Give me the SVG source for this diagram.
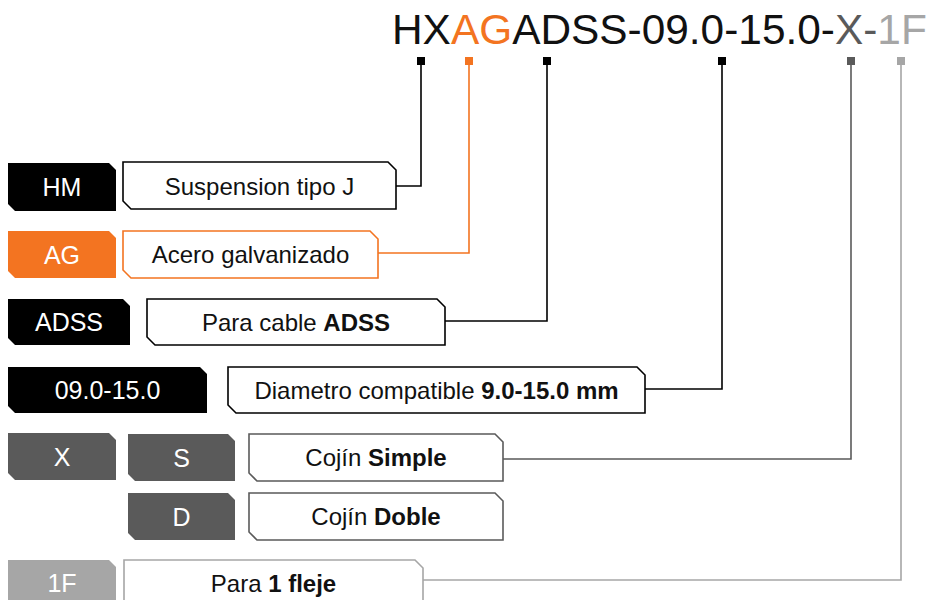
<svg xmlns="http://www.w3.org/2000/svg" width="929" height="600" viewBox="0 0 929 600">
<style>
text{font-family:"Liberation Sans",Arial,Helvetica,sans-serif}
.title{font-size:42.4px}
.tag{font-size:25px;fill:#fff;text-anchor:middle}
.desc{font-size:24px;fill:#111;text-anchor:middle}
.box{fill:#fff;stroke-width:1.6}
.conn{fill:none;stroke-width:1.6}
.b{font-weight:bold}
</style>
<rect width="929" height="600" fill="#fff"/>
<text class="title" x="392" y="44"><tspan fill="#111">HX</tspan><tspan fill="#f37421">AG</tspan><tspan fill="#111">ADSS-09.0-15.0-</tspan><tspan fill="#5a5a5a">X-</tspan><tspan fill="#a6a6a6">1F</tspan></text>
<g id="connectors">
<rect x="417" y="57" width="8" height="8" fill="#000"/>
<path class="conn" stroke="#000" d="M421 65V186H396"/>
<rect x="465" y="57" width="8" height="8" fill="#f37421"/>
<path class="conn" stroke="#f37421" d="M469 65V253H378"/>
<rect x="543" y="57" width="8" height="8" fill="#000"/>
<path class="conn" stroke="#000" d="M547 65V321H445"/>
<rect x="718" y="57" width="8" height="8" fill="#000"/>
<path class="conn" stroke="#000" d="M722 65V389H645"/>
<rect x="847" y="57" width="8" height="8" fill="#5a5a5a"/>
<path class="conn" stroke="#5a5a5a" d="M851 65V459H503"/>
<rect x="897" y="57" width="8" height="8" fill="#a6a6a6"/>
<path class="conn" stroke="#a6a6a6" d="M901 65V580H423"/>
</g>
<g id="tag-HM"><path fill="#000" d="M8 163H109L116 170V211H15L8 204Z"/><text class="tag" x="62" y="196">HM</text></g>
<g id="desc-HM"><path class="box" stroke="#000" d="M123 162H388L396 170V209H131L123 201Z"/><text class="desc" x="259.5" y="194.5">Suspension tipo J</text></g>
<g id="tag-AG"><path fill="#f37421" d="M8 231H109L116 238V278H15L8 271Z"/><text class="tag" x="62" y="263.5">AG</text></g>
<g id="desc-AG"><path class="box" stroke="#f37421" d="M123 231H370L378 239V278H131L123 270Z"/><text class="desc" x="250.5" y="263">Acero galvanizado</text></g>
<g id="tag-ADSS"><path fill="#000" d="M8 299H123L130 306V345H15L8 338Z"/><text class="tag" x="69" y="331">ADSS</text></g>
<g id="desc-ADSS"><path class="box" stroke="#000" d="M147 299H437L445 307V345H155L147 337Z"/><text class="desc" x="296" y="330.5">Para cable <tspan class="b">ADSS</tspan></text></g>
<g id="tag-diam"><path fill="#000" d="M8 367H200L207 374V413H15L8 406Z"/><text class="tag" x="107.5" y="399">09.0-15.0</text></g>
<g id="desc-diam"><path class="box" stroke="#000" d="M228 367H637L645 375V413H236L228 405Z"/><text class="desc" x="436.5" y="398.5">Diametro compatible <tspan class="b">9.0-15.0 mm</tspan></text></g>
<g id="tag-X"><path fill="#5a5a5a" d="M8 433H109L116 440V480H15L8 473Z"/><text class="tag" x="62" y="465.5">X</text></g>
<g id="tag-S"><path fill="#5a5a5a" d="M128 434H228L235 441V481H135L128 474Z"/><text class="tag" x="181.5" y="466.5">S</text></g>
<g id="desc-S"><path class="box" stroke="#5a5a5a" d="M249 434H495L503 442V481H257L249 473Z"/><text class="desc" x="376" y="466">Cojín <tspan class="b">Simple</tspan></text></g>
<g id="tag-D"><path fill="#5a5a5a" d="M128 493H228L235 500V540H135L128 533Z"/><text class="tag" x="181.5" y="525.5">D</text></g>
<g id="desc-D"><path class="box" stroke="#5a5a5a" d="M249 493H495L503 501V540H257L249 532Z"/><text class="desc" x="376" y="525">Cojín <tspan class="b">Doble</tspan></text></g>
<g id="tag-1F"><path fill="#a6a6a6" d="M8 560H109L116 567V610H15L8 603Z"/><text class="tag" x="62" y="592">1F</text></g>
<g id="desc-1F"><path class="box" stroke="#a6a6a6" d="M124 560H415L423 568V610H132L124 602Z"/><text class="desc" x="273.5" y="591.5">Para <tspan class="b">1 fleje</tspan></text></g>
</svg>
